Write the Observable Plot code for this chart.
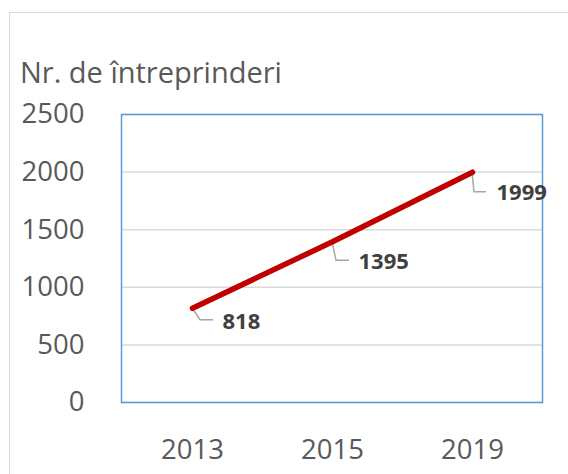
<!DOCTYPE html>
<html>
<head>
<meta charset="utf-8">
<script src="https://cdn.jsdelivr.net/npm/d3@7"></script>
<script src="https://cdn.jsdelivr.net/npm/@observablehq/plot@0.6"></script>
<style>
  html, body { margin: 0; padding: 0; background: #fff; overflow: hidden; }
  #page { position: relative; width: 568px; height: 474px; overflow: hidden; font-family: "Open Sans", sans-serif; }
  #frame { position: absolute; left: 9px; top: 12px; width: 700px; height: 600px; border: 1.5px solid #D9D9D9; box-sizing: border-box; }
  #title { position: absolute; left: 20px; top: 57px; font-size: 29px; line-height: 29px; color: #595959; white-space: nowrap; }
  #chart { position: absolute; left: 0; top: 0; }
</style>
</head>
<body>
<div id="page">
  <div id="frame"></div>
  <div id="title">Nr. de întreprinderi</div>
  <div id="chart"></div>
</div>
<script>
const years = ["2013", "2015", "2019"];
const values = [818, 1395, 1999];
const yTicks = [0, 500, 1000, 1500, 2000, 2500];

const data = years.map((year, i) => ({year, value: values[i]}));

// label callout styling (pixel offsets: elbow, end of leader, text)
const callouts = [
  {ex: 8, ey: 12, hx: 13, tx: 30, ty: 14},
  {ex: 4, ey: 19, hx: 13, tx: 26, ty: 20},
  {ex: 2, ey: 20, hx: 12, tx: 24, ty: 21}
];

const leaderMark = (index, scales, vals, dimensions) => {
  const g = d3.create("svg:g");
  data.forEach((d, i) => {
    const c = callouts[i];
    const px = scales.x(d.year), py = scales.y(d.value);
    g.append("path")
      .attr("d", `M${px},${py}L${px + c.ex},${py + c.ey}L${px + c.ex + c.hx},${py + c.ey}`)
      .attr("fill", "none")
      .attr("stroke", "#A6A6A6")
      .attr("stroke-width", 1.5);
  });
  return g.node();
};

const labelMarks = data.map((d, i) => Plot.text([d], {
  x: "year", y: "value", text: (r) => String(r.value),
  dx: callouts[i].tx, dy: callouts[i].ty,
  textAnchor: "start", fill: "#404040",
  fontSize: 22, fontWeight: "bold"
}));

const chart = Plot.plot({
  width: 568,
  height: 474,
  marginLeft: 121,
  marginRight: 26,
  marginTop: 114,
  marginBottom: 72,
  style: {fontFamily: "Open Sans, sans-serif", color: "#595959", background: "transparent", overflow: "visible"},
  x: {type: "point", domain: years, padding: 0.5, label: null},
  y: {domain: [0, 2500], label: null},
  marks: [
    Plot.gridY(yTicks, {stroke: "#D9D9D9", strokeOpacity: 1, strokeWidth: 1.5}),
    Plot.frame({stroke: "#5B9BD5", strokeWidth: 1.5}),
    Plot.axisY(yTicks, {tickSize: 0, tickPadding: 37, fontSize: 27.5, fill: "#595959", label: null, tickFormat: (d) => String(d)}),
    Plot.axisX(years, {tickSize: 0, tickPadding: 37, fontSize: 27.5, fill: "#595959", label: null}),
    leaderMark,
    Plot.line(data, {x: "year", y: "value", stroke: "#C00000", strokeWidth: 5.5, strokeLinecap: "round"}),
    ...labelMarks
  ]
});
document.getElementById("chart").appendChild(chart);
</script>
</body>
</html>
